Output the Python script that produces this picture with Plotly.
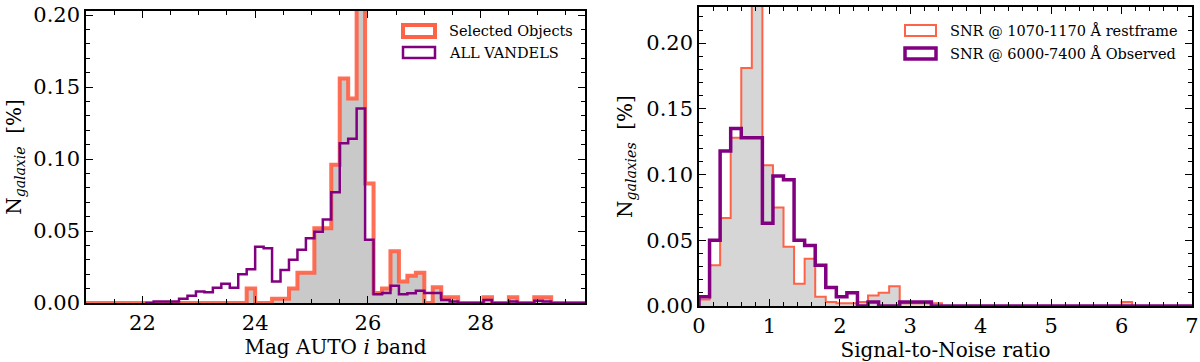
import numpy as np
import plotly.graph_objects as go

## left panel : Mag AUTO i band, bins of 0.15 mag
mag_width = 0.15
sel_start = 21.0
sel_vals = [0, 0, 0, 0, 0, 0, 0, 0, 0, 0,
            0, 0, 0, 0, 0, 0, 0, 0, 0, 0.010,
            0, 0, 0.003, 0.003, 0.010, 0.021, 0.021, 0.052, 0.052, 0.096,
            0.156, 0.142, 0.24, 0.083, 0.007, 0.010, 0.036, 0.015, 0.019, 0.021,
            0, 0.011, 0.004, 0.004, 0, 0, 0, 0.004, 0, 0,
            0.004, 0, 0, 0.004, 0.004, 0, 0, 0, 0]
sel_fill = list(sel_vals)
sel_fill[33] = 0.044

all_start = 22.05
all_vals = [0, 0.001, 0.001, 0.001, 0.003, 0.005, 0.008, 0.0074, 0.0106, 0.0134,
            0.0106, 0.020, 0.0234, 0.039, 0.038, 0.015, 0.023, 0.030, 0.037, 0.045,
            0.0495, 0.058, 0.077, 0.111, 0.114, 0.135, 0.044, 0.006, 0.007, 0.012,
            0.006, 0.0067, 0.0085, 0.007, 0.007, 0.002, 0.001, 0, 0, 0,
            0.002, 0, 0, 0.001, 0, 0, 0.0015, 0.001, 0, 0,
            0, 0, 0]

## right panel : SNR, bins of 0.15
snr_width = 0.15
snr_start = 0.0
rest_vals = [0.005, 0.031, 0.067, 0.128, 0.181, 0.26, 0.107, 0.075, 0.045, 0.017,
             0.036, 0.007, 0.003, 0.002, 0.002, 0.003, 0.008, 0.010, 0.015, 0.002,
             0.002, 0.002, 0.002, 0, 0, 0, 0, 0, 0, 0,
             0, 0, 0, 0, 0, 0, 0, 0, 0, 0,
             0.003, 0, 0, 0, 0, 0, 0]
obs_vals = [0.007, 0.05, 0.118, 0.135, 0.128, 0.128, 0.063, 0.099, 0.096, 0.05,
            0.046, 0.031, 0.014, 0.007, 0.010, 0, 0.003, 0, 0, 0.003,
            0.003, 0.003, 0, 0, 0, 0, 0, 0, 0, 0,
            0, 0, 0, 0, 0, 0, 0, 0, 0, 0,
            0, 0, 0, 0, 0, 0, 0]

ORANGE = 'tomato'
PURPLE = 'purple'
FONT = 'DejaVu Serif'


def step(start, width, vals):
    # matplotlib-like step outline
    edges = start + width * np.arange(len(vals) + 1)
    x = np.concatenate([[edges[0]], edges[:-1], [edges[-1]]])
    y = np.concatenate([[0], vals, [0]])
    return x, y


fig = go.Figure()

# left panel
x, y = step(sel_start, mag_width, sel_fill)
fig.add_trace(go.Scatter(x=x, y=y, mode='lines', line=dict(shape='hv', width=0),
                         fill='tozeroy', fillcolor='#c9c9c9', showlegend=False,
                         xaxis='x', yaxis='y', hoverinfo='skip'))
x, y = step(sel_start, mag_width, sel_vals)
fig.add_trace(go.Scatter(x=x, y=y, mode='lines', name='Selected Objects',
                         line=dict(shape='hv', width=4, color=ORANGE),
                         opacity=0.92, showlegend=False, xaxis='x', yaxis='y'))
x, y = step(all_start, mag_width, all_vals)
fig.add_trace(go.Scatter(x=x, y=y, mode='lines', name='ALL VANDELS',
                         line=dict(shape='hv', width=2.5, color=PURPLE),
                         showlegend=False, xaxis='x', yaxis='y'))

# right panel
x, y = step(snr_start, snr_width, rest_vals)
fig.add_trace(go.Scatter(x=x, y=y, mode='lines', line=dict(shape='hv', width=0),
                         fill='tozeroy', fillcolor='#d6d6d6', showlegend=False,
                         xaxis='x2', yaxis='y2', hoverinfo='skip'))
fig.add_trace(go.Scatter(x=x, y=y, mode='lines', name='SNR @ 1070-1170 Å restframe',
                         line=dict(shape='hv', width=2, color=ORANGE),
                         showlegend=False, xaxis='x2', yaxis='y2'))
x, y = step(snr_start, snr_width, obs_vals)
fig.add_trace(go.Scatter(x=x, y=y, mode='lines', name='SNR @ 6000-7400 Å Observed',
                         line=dict(shape='hv', width=3.5, color=PURPLE),
                         showlegend=False, xaxis='x2', yaxis='y2'))

# pixel layout of the page
W, H = 1200, 362
L, R, T, B = 86, 8, 7, 56
IW, IH = W - L - R, H - T - B


def px(xp):
    return (xp - L) / IW


def py(yp):
    return (H - B - yp) / IH


axis_style = dict(showline=True, linecolor='black', linewidth=1.5, mirror='allticks',
                  ticks='inside', ticklen=7, tickwidth=1.2, tickcolor='black',
                  showgrid=False, zeroline=False, automargin=False,
                  tickfont=dict(family=FONT, size=21, color='black'),
                  title_font=dict(family=FONT, size=20, color='black'))
minor = lambda d: dict(dtick=d, ticks='inside', ticklen=4, tickwidth=1, tickcolor='black', showgrid=False)

fig.update_layout(
    width=W, height=H, margin=dict(l=L, r=R, t=T, b=B),
    plot_bgcolor='white', paper_bgcolor='white', showlegend=False,
    xaxis=dict(axis_style, domain=[px(86), px(585)], range=[21.0, 29.85], anchor='y',
               dtick=2, tick0=0, minor=minor(0.5),
               title=dict(text='Mag AUTO <i>i</i> band', standoff=6)),
    yaxis=dict(axis_style, domain=[py(303), py(11)], range=[0, 0.2028], anchor='x',
               dtick=0.05, tickformat='.2f', minor=minor(0.01),
               title=dict(text='N<sub><i>galaxie</i></sub>  [%]', standoff=6)),
    xaxis2=dict(axis_style, domain=[px(699), px(1192)], range=[0, 7], anchor='y2',
                dtick=1, minor=minor(0.2),
                title=dict(text='Signal-to-Noise ratio', standoff=6)),
    yaxis2=dict(axis_style, domain=[py(306), py(7)], range=[0, 0.2275], anchor='x2',
                dtick=0.05, tickformat='.2f', minor=minor(0.01),
                title=dict(text='N<sub><i>galaxies</i></sub>  [%]', standoff=8)),
)

# hand-made legends (outlined patches like matplotlib)
legends = [
    (403, 435, 25, 37, ORANGE, 4, 'Selected Objects'),
    (403, 435, 47, 58, PURPLE, 2.5, 'ALL VANDELS'),
    (905, 936, 25, 36, ORANGE, 2, 'SNR @ 1070-1170 Å restframe'),
    (905, 936, 48, 59, PURPLE, 3.5, 'SNR @ 6000-7400 Å Observed'),
]
for x0, x1, y0, y1, col, lw, label in legends:
    fig.add_shape(type='rect', xref='paper', yref='paper',
                  x0=px(x0), x1=px(x1), y0=py(y1), y1=py(y0),
                  line=dict(color=col, width=lw), fillcolor='rgba(0,0,0,0)')
    fig.add_annotation(x=px(x1 + 12), y=py((y0 + y1) / 2), xref='paper', yref='paper',
                       text=label, showarrow=False, xanchor='left', yanchor='middle',
                       font=dict(family=FONT, size=14.5, color='black'))

# page body has a default margin, drop it so the figure sits at (0, 0)
fig.write_html("out.html", config={'displayModeBar': False},
               post_script="document.body.style.margin='0';")
